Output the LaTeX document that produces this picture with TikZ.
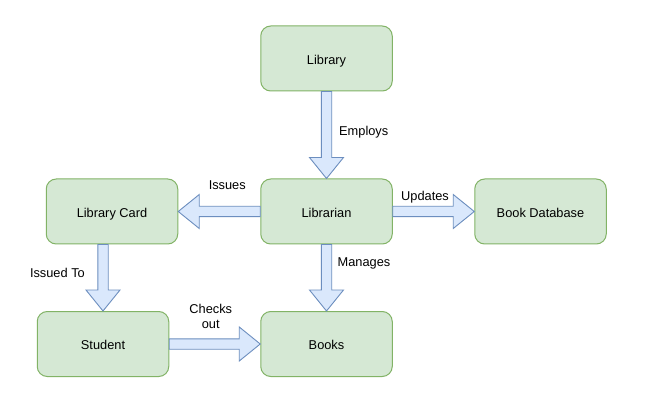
\documentclass[tikz,border=0pt]{standalone}
\usepackage{fontspec}
\setmainfont{Liberation Sans}
\usepackage{xcolor}
\usetikzlibrary{positioning, calc}

\definecolor{boxfill}{HTML}{D5E8D4}
\definecolor{boxline}{HTML}{82B366}
\definecolor{flowfill}{HTML}{DAE8FC}
\definecolor{flowline}{HTML}{6C8EBF}

% block arrow from #1 to #2
\newcommand{\flowarrow}[2]{%
  \coordinate (fh) at ($(#2)!21pt!(#1)$);
  \draw[flow] ($(#1)!5.2pt!90:(#2)$) -- ($(fh)!5.2pt!-90:(#1)$) -- ($(fh)!17pt!-90:(#1)$) -- (#2)
    -- ($(fh)!17pt!90:(#1)$) -- ($(fh)!5.2pt!90:(#1)$) -- ($(#1)!5.2pt!-90:(#2)$) -- cycle;
}

\begin{document}
\begin{tikzpicture}[
    font=\fontsize{12.8}{15.6}\selectfont,
    unit/.style={rectangle, rounded corners=10pt, draw=boxline, fill=boxfill, line width=1pt, minimum width=131.5pt, minimum height=65pt, text height=14pt, text depth=2.7pt},
    flow/.style={draw=flowline, fill=flowfill, line width=0.9pt, line join=miter},
    lbl/.style={inner sep=0pt, align=center}
]
\useasboundingbox[fill=white] (0,0) rectangle (646pt,-401pt);

% librarian in the middle
\node[unit] (lbr) at (326.5pt,-211.5pt) {Librarian};

% around it
\node[unit, above=87pt of lbr] (lib) {Library};
\node[unit, left=82pt of lbr] (card) {Library Card};
\node[unit, right=81.5pt of lbr] (db) {Book Database};
\node[unit, below=66.5pt of lbr] (books) {Books};
\node[unit, left=91pt of books] (student) {Student};

% Relationships
\flowarrow{lib.south}{lbr.north}
\flowarrow{lbr.west}{card.east}
\flowarrow{lbr.east}{db.west}
\flowarrow{lbr.south}{books.north}
\coordinate (cardfoot) at (student.north |- card.south);
\flowarrow{cardfoot}{student.north}
\flowarrow{student.east}{books.west}

% labels
\node[lbl, anchor=west, xshift=12.5pt, yshift=3pt] (employs) at ($(lib.south)!0.5!(lbr.north)$) {Employs};
\node[lbl, anchor=west, xshift=11pt, yshift=14.5pt] (manages) at ($(lbr.south)!0.5!(books.north)$) {Manages};
\node[lbl, xshift=8pt, yshift=26pt] (issues) at ($(lbr.west)!0.5!(card.east)$) {Issues};
\node[lbl, xshift=-8.5pt, yshift=14.5pt] (updates) at ($(lbr.east)!0.5!(db.west)$) {Updates};
\node[lbl, anchor=east, xshift=-18pt, yshift=5pt] (issuedto) at ($(cardfoot)!0.5!(student.north)$) {Issued To};
\node[lbl, xshift=-4pt, yshift=27.5pt] (checksout) at ($(student.east)!0.5!(books.west)$) {Checks\\out};

\end{tikzpicture}
\end{document}
